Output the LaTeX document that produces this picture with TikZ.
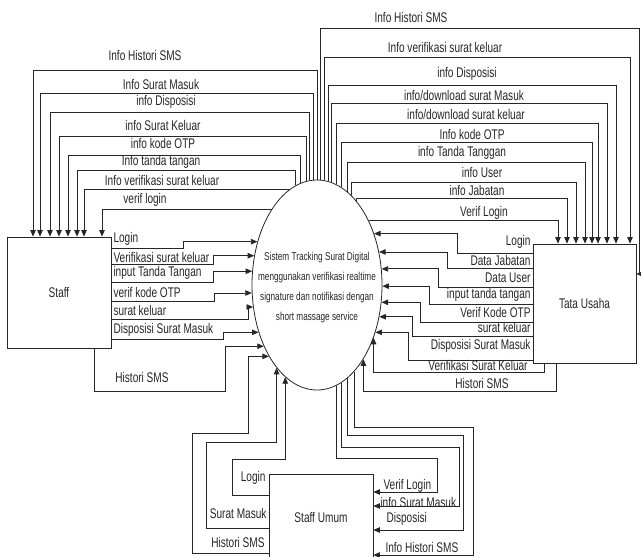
\documentclass[tikz,border=0pt]{standalone}
\usepackage{fontspec}
\setmainfont{Liberation Sans}[FakeStretch=0.72]
\usepackage{tikz}
\usetikzlibrary{arrows.meta,positioning,shapes.geometric}

\begin{document}
\begin{tikzpicture}[x=1pt,y=-1pt,>={Triangle[length=6.5pt,width=5.5pt]},
  ent/.style={draw=black!85,line width=0.8pt,minimum width=104pt,inner sep=0pt,text=black!85,font=\fontsize{14}{16}\selectfont},
  flw/.style={draw=black!85,line width=0.8pt},
  lbl/.style={inner sep=0.3pt,text=black!85,font=\fontsize{14}{16}\selectfont}]
\useasboundingbox (0,0) rectangle (641,557);
% entities and process
\node[ent,minimum height=111pt] (staff) at (59,292.5) {Staff};
\node[ent,minimum width=103pt,minimum height=119pt] (tata) at (584.5,303.5) {Tata Usaha};
\node[ent,minimum height=86pt] (su) at (321,517) {Staff Umum};
\node[ellipse,draw=black!85,line width=0.8pt,minimum width=130pt,minimum height=210pt] (proc) at (317,285) {};
\node[align=center,text=black!85,font=\fontsize{11.4}{20}\selectfont] (proctxt) at (317,288) {Sistem Tracking Surat Digital\\menggunakan verifikasi realtime\\signature dan notifikasi dengan\\short massage service};
% process -> Staff
\draw[flw,->] (proc.90) |- (33,70) -- (33,0 |- staff.north);
\draw[flw,->] (proc.92.2) |- (40,93) -- (40,0 |- staff.north);
\draw[flw,->] (proc.94.4) |- (50,112) -- (50,0 |- staff.north);
\draw[flw,->] (proc.96.6) |- (59,136) -- (59,0 |- staff.north);
\draw[flw,->] (proc.99.5) |- (68,155) -- (68,0 |- staff.north);
\draw[flw,->] (proc.102.6) |- (77,170) -- (77,0 |- staff.north);
\draw[flw,->] (proc.106.3) -| (84,0 |- staff.north);
\draw[flw,->] (proc.121.2) -| (102,0 |- staff.north);
% Staff -> process
\draw[flw,<-] (proc.144) -| (183,248) -- (staff.east |- 0,248);
\draw[flw,<-] (proc.155.9) -| (213,264) -- (staff.east |- 0,264);
\draw[flw,<-] (proc.168.6) -| (213,282) -- (staff.east |- 0,282);
\draw[flw,<-] (proc.187.9) -| (214,301) -- (staff.east |- 0,301);
\draw[flw,<-] (proc.199.9) -| (248,319) -- (staff.east |- 0,319);
\draw[flw,<-] (proc.219) -| (223,339) -- (staff.east |- 0,339);
\draw[flw,<-] (proc.229.1) -| (225,391) -| (94,0 |- staff.south);
% Staff Umum -> process
\draw[flw,<-] (proc.251.4) |- (232,459) |- (su.west |- 0,495);
\draw[flw,<-] (proc.244.2) |- (206,442) |- (su.west |- 0,528);
\draw[flw,<-] (proc.236.7) -| (248,433) -| (192,553) -- (su.west |- 0,553);
% process -> Staff Umum
\draw[flw,->] (proc.-79.9) |- (437,458) |- (su.east |- 0,492);
\draw[flw,->] (proc.-76.2) |- (459,447) |- (su.east |- 0,506);
\draw[flw,->] (proc.-72.1) |- (463,435) |- (su.east |- 0,530);
\draw[flw,->] (proc.-67.6) |- (473,427) |- (su.east |- 0,555);
% process -> Tata Usaha
\draw[flw,->] (proc.88.4) |- (639.5,28) |- (tata.east |- 0,274);
\draw[flw,->] (proc.86.7) |- (630,57) -- (630,0 |- tata.north);
\draw[flw,->] (proc.84.5) |- (616,85) -- (616,0 |- tata.north);
\draw[flw,->] (proc.82.2) |- (607,103) -- (607,0 |- tata.north);
\draw[flw,->] (proc.79.9) |- (598,123) -- (598,0 |- tata.north);
\draw[flw,->] (proc.76.2) |- (592,142) -- (592,0 |- tata.north);
\draw[flw,->] (proc.72.9) |- (585,162) -- (585,0 |- tata.north);
\draw[flw,->] (proc.69.2) |- (576,182) -- (576,0 |- tata.north);
\draw[flw,->] (proc.65.1) |- (567,198) -- (567,0 |- tata.north);
\draw[flw,->] (proc.51.2) -| (558,0 |- tata.north);
% Tata Usaha -> process
\draw[flw,<-] (proc.42.6) -| (457,253) -- (tata.west |- 0,253);
\draw[flw,<-] (proc.28.9) -| (447,268) -- (tata.west |- 0,268);
\draw[flw,<-] (proc.14) -| (438,287) -- (tata.west |- 0,287);
\draw[flw,<-] (proc.-1.8) -| (429,304) -- (tata.west |- 0,304);
\draw[flw,<-] (proc.-15.7) -| (420,322) -- (tata.west |- 0,322);
\draw[flw,<-] (proc.-27.3) -| (412,336) -- (tata.west |- 0,336);
\draw[flw,<-] (proc.-39) -| (408,360) -- (tata.west |- 0,360);
\draw[flw,<-] (proc.-43.6) |- (544,372) -- (544,0 |- tata.south);
\draw[flw,<-] (proc.-58.2) |- (556,391) -- (556,0 |- tata.south);
% labels Staff
\node[lbl] (ls0) at (145,55) {Info Histori SMS};
\node[lbl] (ls1) at (161,84) {Info Surat Masuk};
\node[lbl] (ls2) at (166,102) {info Disposisi};
\node[lbl] (ls3) at (163,125) {info Surat Keluar};
\node[lbl] (ls4) at (163,143) {info kode OTP};
\node[lbl] (ls5) at (161,162) {Info tanda tangan};
\node[lbl] (ls6) at (162,180) {Info verifikasi surat keluar};
\node[lbl] (ls7) at (145,200) {verif login};
\node[lbl,anchor=west] (ls8) at (113,239) {Login};
\node[lbl,anchor=west] (ls9) at (113,257) {Verifikasi surat keluar};
\node[lbl,anchor=west] (ls10) at (113,273) {input Tanda Tangan};
\node[lbl,anchor=west] (ls11) at (113,292) {verif kode OTP};
\node[lbl,anchor=west] (ls12) at (113,310) {surat keluar};
\node[lbl,anchor=west] (ls13) at (113,330) {Disposisi Surat Masuk};
\node[lbl] (ls14) at (142,377) {Histori SMS};
% labels Tata Usaha
\node[lbl] (lt0) at (411,17) {Info Histori SMS};
\node[lbl] (lt1) at (445,47) {Info verifikasi surat keluar};
\node[lbl] (lt2) at (467,74) {info Disposisi};
\node[lbl] (lt3) at (464,95) {info/download surat Masuk};
\node[lbl] (lt4) at (466,114) {info/download surat keluar};
\node[lbl] (lt5) at (472,134) {Info kode OTP};
\node[lbl] (lt6) at (462,153) {info Tanda Tanggan};
\node[lbl] (lt7) at (482,172) {info User};
\node[lbl] (lt8) at (477,190) {info Jabatan};
\node[lbl] (lt9) at (484,213) {Verif Login};
\node[lbl,anchor=east] (lt10) at (531,242) {Login};
\node[lbl,anchor=east] (lt11) at (531,260) {Data Jabatan};
\node[lbl,anchor=east] (lt12) at (531,278) {Data User};
\node[lbl,anchor=east] (lt13) at (531,295) {input tanda tangan};
\node[lbl,anchor=east] (lt14) at (531,312) {Verif Kode OTP};
\node[lbl,anchor=east] (lt15) at (531,327) {surat keluar};
\node[lbl,anchor=east] (lt16) at (531,346) {Disposisi Surat Masuk};
\node[lbl] (lt17) at (478,365) {Verifikasi Surat Keluar};
\node[lbl] (lt18) at (482,383) {Histori SMS};
% labels Staff Umum
\node[lbl,anchor=east] (lu0) at (266,478) {Login};
\node[lbl,anchor=east] (lu1) at (267,513) {Surat Masuk};
\node[lbl,anchor=east] (lu2) at (265,542) {Histori SMS};
\node[lbl,anchor=west] (lu3) at (383,486) {Verif Login};
\node[lbl,anchor=west] (lu4) at (380,502) {info Surat Masuk};
\node[lbl,anchor=west] (lu5) at (386,519) {Disposisi};
\node[lbl,anchor=west] (lu6) at (385,547) {Info Histori SMS};
\end{tikzpicture}
\end{document}
